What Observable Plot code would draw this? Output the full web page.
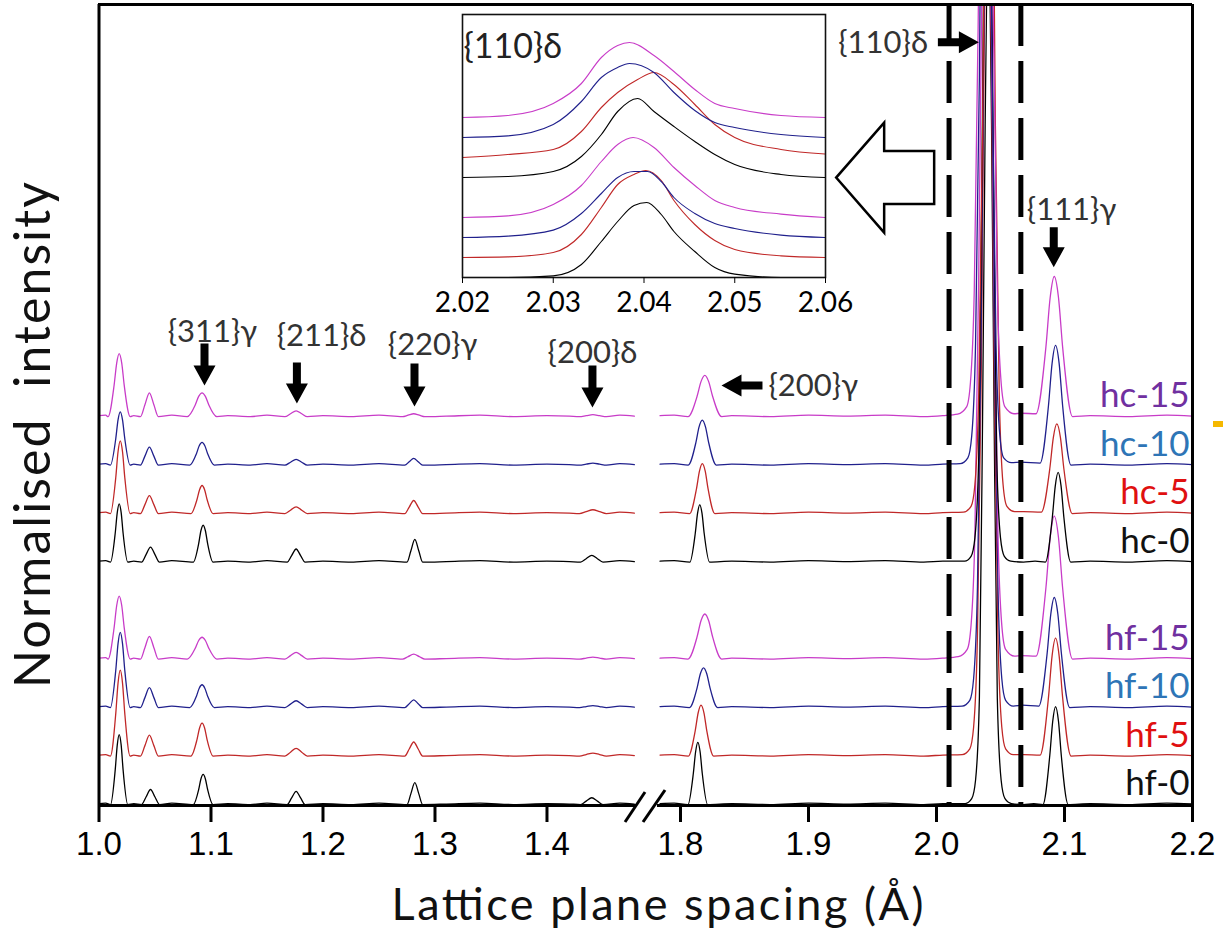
<!DOCTYPE html>
<html><head><meta charset="utf-8">
<script src="https://cdn.jsdelivr.net/npm/d3@7"></script>
<script src="https://cdn.jsdelivr.net/npm/@observablehq/plot@0.6"></script>
<style>body{margin:0;background:#fff} #chart{width:1223px;height:936px}</style>
</head><body><div id="chart"></div>
<script>
// ---------- axes / categories ----------
const xTicks = [1.0, 1.1, 1.2, 1.3, 1.4, 1.8, 1.9, 2.0, 2.1, 2.2];
const insetTicks = [2.02, 2.03, 2.04, 2.05, 2.06];
const seriesNames = ["hf-0", "hf-5", "hf-10", "hf-15", "hc-0", "hc-5", "hc-10", "hc-15"];
const offsets = [0, 1, 2, 3, 5, 6, 7, 8];
const lineColors = ["#000000", "#C02828", "#20208C", "#C83CC8", "#000000", "#C02828", "#20208C", "#C83CC8"];
const labelColors = ["#111111", "#E01010", "#2E75B6", "#7030A0", "#111111", "#E01010", "#2E75B6", "#7030A0"];
const dashedLines = [2.0098, 2.0659];
const axisBreak = [1.48, 1.782];   // left segment ends, right segment starts

// ---------- shared baseline points (d, intensity) ----------
const baseLeft = [[1.000,0.02],[1.006,0.03],[1.031,0.02],[1.065,0.03],[1.115,0.02],[1.135,0],[1.150,0.03],[1.20,0.02],[1.225,0],[1.25,0.03],[1.31,0.01],[1.34,0.03],[1.37,0],[1.40,0.02],[1.42,0.01],[1.465,0.03],[1.478,0.01]];
const baseRight = [[1.784,0.02],[1.795,0.03],[1.84,0.02],[1.87,0],[1.90,0.03],[1.93,0.01],[1.96,0.03],[1.99,0],[2.005,0.02],[2.12,0.02],[2.15,0],[2.18,0.03],[2.2,0.01]];

// ---------- main traces: peaks (d in Å, intensity above baseline) ----------
const hf0 = [[1.0103,0],[1.0145,0.72],[1.0163,1.224],[1.018,1.44],[1.0198,1.224],[1.0215,0.72],[1.0257,0],
 [1.038,0],[1.042,0.155],[1.046,0.31],[1.050,0.155],[1.054,0],
 [1.0842,0],[1.089,0.31],[1.091,0.527],[1.093,0.62],[1.095,0.527],[1.097,0.31],[1.1018,0],
 [1.168,0],[1.172,0.135],[1.176,0.27],[1.180,0.135],[1.184,0],
 [1.275,0],[1.2785,0.225],[1.282,0.45],[1.2855,0.225],[1.289,0],
 [1.430,0],[1.435,0.07],[1.440,0.14],[1.445,0.07],[1.450,0],
 [1.8058,0],[1.81,0.64],[1.8118,1.088],[1.8135,1.28],[1.8153,1.088],[1.817,0.64],[1.8212,0],
 [2.0225,0.02],[2.0275,0.12],[2.0305,0.5],[2.0335,2.2],[2.036,8],[2.038,14],[2.0405,18],[2.043,14],[2.045,8],[2.0475,2.2],[2.0505,0.5],[2.0535,0.12],[2.0585,0.02],
 [2.068,0],[2.076,0.02],
 [2.0831,0],[2.0885,1.01],[2.0908,1.717],[2.093,2.02],[2.0953,1.717],[2.0975,1.01],[2.1029,0]];
const hf5 = [[1.0102,0],[1.015,0.885],[1.017,1.5045],[1.019,1.77],[1.021,1.5045],[1.023,0.885],[1.0278,0],
 [1.037,0],[1.041,0.215],[1.045,0.43],[1.049,0.215],[1.053,0],
 [1.0821,0],[1.0875,0.34],[1.0898,0.578],[1.092,0.68],[1.0943,0.578],[1.0965,0.34],[1.1019,0],
 [1.166,0],[1.171,0.08],[1.176,0.16],[1.181,0.08],[1.186,0],
 [1.273,0],[1.277,0.145],[1.281,0.29],[1.285,0.145],[1.289,0],
 [1.429,0],[1.435,0.03],[1.441,0.06],[1.447,0.03],[1.453,0],
 [1.8061,0],[1.8115,0.525],[1.8138,0.8925],[1.816,1.05],[1.8183,0.8925],[1.8205,0.525],[1.8259,0],
 [2.020,0.03],[2.026,0.15],[2.029,0.6],[2.032,2.5],[2.035,8],[2.037,14],[2.040,18],[2.043,14],[2.045,8],[2.048,2.5],[2.051,0.6],[2.054,0.15],[2.060,0.03],
 [2.068,0.03],
 [2.0809,0.02],[2.0875,1.215],[2.0903,2.0655],[2.093,2.43],[2.0958,2.0655],[2.0985,1.215],[2.1051,0]];
const hf10 = [[1.0102,0],[1.015,0.775],[1.017,1.3175],[1.019,1.55],[1.021,1.3175],[1.023,0.775],[1.0278,0],
 [1.037,0],[1.041,0.205],[1.045,0.41],[1.049,0.205],[1.053,0],
 [1.081,0],[1.087,0.235],[1.0895,0.40],[1.092,0.47],[1.0945,0.40],[1.097,0.235],[1.103,0],
 [1.166,0],[1.171,0.07],[1.176,0.14],[1.181,0.07],[1.186,0],
 [1.273,0],[1.277,0.08],[1.281,0.16],[1.285,0.08],[1.289,0],
 [1.429,0],[1.435,0.02],[1.441,0.04],[1.447,0.02],[1.453,0],
 [1.807,0],[1.813,0.41],[1.8155,0.697],[1.818,0.82],[1.8205,0.697],[1.823,0.41],[1.829,0],
 [2.020,0.03],[2.026,0.15],[2.029,0.6],[2.032,2.5],[2.035,8],[2.037,14],[2.040,18],[2.043,14],[2.045,8],[2.048,2.5],[2.051,0.6],[2.054,0.15],[2.060,0.03],
 [2.067,0.05],
 [2.0799,0.03],[2.0865,1.135],[2.0893,1.93],[2.092,2.27],[2.0948,1.93],[2.0975,1.135],[2.1041,0]];
const hf15 = [[1.0081,0],[1.0135,0.65],[1.0158,1.105],[1.018,1.30],[1.0203,1.105],[1.0225,0.65],[1.0279,0],
 [1.037,0],[1.041,0.235],[1.045,0.47],[1.049,0.235],[1.053,0],
 [1.0788,0],[1.086,0.225],[1.089,0.3825],[1.092,0.45],[1.095,0.3825],[1.098,0.225],[1.1052,0],
 [1.166,0],[1.171,0.07],[1.176,0.14],[1.181,0.07],[1.186,0],
 [1.271,0],[1.276,0.05],[1.281,0.10],[1.286,0.05],[1.291,0],
 [1.429,0],[1.435,0.02],[1.441,0.04],[1.447,0.02],[1.453,0],
 [1.8058,0],[1.813,0.465],[1.816,0.79],[1.819,0.93],[1.822,0.79],[1.825,0.465],[1.8322,0],
 [2.017,0.05],[2.024,0.2],[2.027,0.7],[2.030,2.6],[2.033,8],[2.0355,14],[2.039,18],[2.0425,14],[2.045,8],[2.048,2.6],[2.051,0.7],[2.054,0.2],[2.061,0.06],
 [2.066,0.07],
 [2.0777,0.06],[2.0855,1.475],[2.0888,2.5075],[2.092,2.95],[2.0953,2.5075],[2.0985,1.475],[2.1063,0]];
const hc0 = [[1.0103,0],[1.0145,0.6],[1.0163,1.02],[1.018,1.20],[1.0198,1.02],[1.0215,0.6],[1.0257,0],
 [1.038,0],[1.042,0.155],[1.046,0.31],[1.050,0.155],[1.054,0],
 [1.0842,0],[1.089,0.38],[1.091,0.646],[1.093,0.76],[1.095,0.646],[1.097,0.38],[1.1018,0],
 [1.168,0],[1.172,0.135],[1.176,0.27],[1.180,0.135],[1.184,0],
 [1.275,0],[1.2785,0.235],[1.282,0.47],[1.2855,0.235],[1.289,0],
 [1.430,0],[1.435,0.07],[1.440,0.14],[1.445,0.07],[1.450,0],
 [1.8073,0],[1.8115,0.59],[1.8133,1.003],[1.815,1.18],[1.8168,1.003],[1.8185,0.59],[1.8227,0],
 [2.022,0.02],[2.027,0.12],[2.030,0.5],[2.033,2.2],[2.0355,8],[2.0375,14],[2.040,18],[2.0425,14],[2.0445,8],[2.047,2.2],[2.050,0.5],[2.053,0.12],[2.058,0.02],
 [2.068,0],[2.077,0.02],
 [2.0851,0],[2.0905,0.925],[2.0928,1.573],[2.095,1.85],[2.0973,1.573],[2.0995,0.925],[2.1049,0]];
const hc5 = [[1.0102,0],[1.015,0.75],[1.017,1.275],[1.019,1.50],[1.021,1.275],[1.023,0.75],[1.0278,0],
 [1.037,0],[1.041,0.185],[1.045,0.37],[1.049,0.185],[1.053,0],
 [1.0821,0],[1.0875,0.29],[1.0898,0.493],[1.092,0.58],[1.0943,0.493],[1.0965,0.29],[1.1019,0],
 [1.166,0],[1.171,0.07],[1.176,0.14],[1.181,0.07],[1.186,0],
 [1.273,0],[1.277,0.135],[1.281,0.27],[1.285,0.135],[1.289,0],
 [1.429,0],[1.435,0.04],[1.441,0.08],[1.447,0.04],[1.453,0],
 [1.8071,0],[1.8125,0.515],[1.8148,0.876],[1.817,1.03],[1.8193,0.876],[1.8215,0.515],[1.8269,0],
 [2.021,0.03],[2.027,0.15],[2.030,0.6],[2.033,2.5],[2.036,8],[2.038,14],[2.041,18],[2.044,14],[2.046,8],[2.049,2.5],[2.052,0.6],[2.055,0.15],[2.061,0.04],
 [2.068,0.04],
 [2.0819,0.03],[2.0885,0.925],[2.0913,1.573],[2.094,1.85],[2.0968,1.573],[2.0995,0.925],[2.1061,0]];
const hc10 = [[1.0102,0],[1.015,0.55],[1.017,0.935],[1.019,1.10],[1.021,0.935],[1.023,0.55],[1.0278,0],
 [1.037,0],[1.041,0.185],[1.045,0.37],[1.049,0.185],[1.053,0],
 [1.081,0],[1.087,0.235],[1.0895,0.40],[1.092,0.47],[1.0945,0.40],[1.097,0.235],[1.103,0],
 [1.166,0],[1.171,0.06],[1.176,0.12],[1.181,0.06],[1.186,0],
 [1.273,0],[1.277,0.07],[1.281,0.14],[1.285,0.07],[1.289,0],
 [1.429,0],[1.435,0.02],[1.441,0.04],[1.447,0.02],[1.453,0],
 [1.806,0],[1.812,0.465],[1.8145,0.79],[1.817,0.93],[1.8195,0.79],[1.822,0.465],[1.828,0],
 [2.0185,0.03],[2.0245,0.15],[2.0275,0.6],[2.0305,2.5],[2.0335,8],[2.0355,14],[2.0385,18],[2.0415,14],[2.0435,8],[2.0465,2.5],[2.0495,0.6],[2.0525,0.15],[2.0585,0.05],
 [2.066,0.06],
 [2.0809,0.04],[2.0875,1.235],[2.0903,2.10],[2.093,2.47],[2.0958,2.10],[2.0985,1.235],[2.1051,0]];
const hc15 = [[1.0081,0],[1.0135,0.65],[1.0158,1.105],[1.018,1.30],[1.0203,1.105],[1.0225,0.65],[1.0279,0],
 [1.037,0],[1.041,0.245],[1.045,0.49],[1.049,0.245],[1.053,0],
 [1.0788,0],[1.086,0.245],[1.089,0.4165],[1.092,0.49],[1.095,0.4165],[1.098,0.245],[1.1052,0],
 [1.166,0],[1.171,0.06],[1.176,0.12],[1.181,0.06],[1.186,0],
 [1.271,0],[1.276,0.03],[1.281,0.06],[1.286,0.03],[1.291,0],
 [1.429,0],[1.435,0.02],[1.441,0.04],[1.447,0.02],[1.453,0],
 [1.8058,0],[1.813,0.425],[1.816,0.7225],[1.819,0.85],[1.822,0.7225],[1.825,0.425],[1.8322,0],
 [2.0165,0.05],[2.0235,0.2],[2.0265,0.7],[2.0295,2.6],[2.0325,8],[2.035,14],[2.0385,18],[2.042,14],[2.0445,8],[2.0475,2.6],[2.0505,0.7],[2.0535,0.2],[2.0605,0.06],
 [2.066,0.07],
 [2.0777,0.06],[2.0855,1.445],[2.0888,2.4565],[2.092,2.89],[2.0953,2.4565],[2.0985,1.445],[2.1063,0]];
const mainSeries = [hf0, hf5, hf10, hf15, hc0, hc5, hc10, hc15];

// ---------- inset traces {110}δ (d, intensity above baseline) ----------
const inHf0 = [[2.02,0],[2.025,0],[2.03,0.08],[2.0331,0.65],[2.0353,1.8],[2.0371,2.8],[2.0389,3.6],[2.0403,3.75],[2.0419,3.15],[2.0433,2.3],[2.0456,1.3],[2.0478,0.5],[2.05,0.17],[2.0551,0],[2.06,0]];
const inHf5 = [[2.02,0],[2.025,0.03],[2.03,0.25],[2.0331,1.15],[2.0353,2.5],[2.0371,3.65],[2.0389,4.15],[2.0402,4.35],[2.0419,3.85],[2.0433,2.85],[2.0456,1.65],[2.0478,0.85],[2.05,0.4],[2.0551,0.08],[2.06,0]];
const inHf10 = [[2.02,0],[2.025,0.07],[2.03,0.37],[2.0331,1.2],[2.0353,2.2],[2.0371,3.0],[2.0389,3.3],[2.0404,3.3],[2.0419,2.8],[2.0433,2.0],[2.0456,1.2],[2.0478,0.7],[2.05,0.45],[2.0551,0.12],[2.06,0]];
const inHf15 = [[2.02,0],[2.025,0.08],[2.03,0.65],[2.0331,1.6],[2.0353,2.8],[2.0371,3.65],[2.0388,4.0],[2.0411,3.5],[2.0433,2.5],[2.0456,1.6],[2.0478,0.85],[2.05,0.5],[2.0551,0.17],[2.06,0]];
const inHc0 = [[2.02,0],[2.025,0.05],[2.03,0.3],[2.0331,1.05],[2.0353,2.15],[2.0371,3.3],[2.0393,3.95],[2.0411,3.3],[2.0433,2.55],[2.0456,1.8],[2.0478,1.15],[2.05,0.65],[2.0551,0.15],[2.06,0]];
const inHc5 = [[2.02,0],[2.025,0.15],[2.03,0.4],[2.0331,1.3],[2.0353,2.5],[2.0371,3.25],[2.0393,3.9],[2.0411,4.25],[2.0433,3.65],[2.0456,2.65],[2.0478,1.65],[2.05,1.0],[2.0551,0.4],[2.06,0.17]];
const inHc10 = [[2.02,0],[2.025,0.08],[2.03,0.65],[2.0331,1.8],[2.0353,3.0],[2.0371,3.5],[2.0384,3.7],[2.0411,3.25],[2.0433,2.25],[2.0456,1.35],[2.0478,0.75],[2.05,0.5],[2.0551,0.15],[2.06,0]];
const inHc15 = [[2.02,0],[2.025,0.1],[2.03,0.7],[2.0331,1.7],[2.0353,3.0],[2.0371,3.6],[2.0384,3.75],[2.0411,3.1],[2.0433,2.3],[2.0456,1.4],[2.0478,0.7],[2.05,0.45],[2.0551,0.1],[2.06,0]];
const insetSeries = [inHf0, inHf5, inHf10, inHf15, inHc0, inHc5, inHc10, inHc15];

// ---------- annotations (positions in data units) ----------
const peakLabels = [
  {text: "{311}γ", x: 1.1013, y: 9.74},
  {text: "{211}δ", x: 1.1987, y: 9.67},
  {text: "{220}γ", x: 1.2978, y: 9.47},
  {text: "{200}δ", x: 1.4406, y: 9.32},
  {text: "{200}γ", x: 1.9037, y: 8.64},
  {text: "{110}δ", x: 1.9583, y: 15.70},
  {text: "{111}γ", x: 2.1055, y: 12.25}
];
const arrows = [
  {x: 1.0942, y: 8.64, len: 42, rot: 180},
  {x: 1.1767, y: 8.27, len: 41, rot: 180},
  {x: 1.2817, y: 8.21, len: 43, rot: 180},
  {x: 1.4406, y: 8.19, len: 42, rot: 180},
  {x: 1.8320, y: 8.64, len: 41, rot: 270},
  {x: 2.0331, y: 15.72, len: 41, rot: 90},
  {x: 2.0916, y: 11.08, len: 40, rot: 180}
];
const bigArrow = [{x: 1.9216, y: 12.93, len: 98, rot: 270}];

// ---------- broken x axis: map d to a continuous position (left and right pieces) ----------
const toV = d => d <= 1.6 ? (d - 1.0) * 1120 : 558.5 + (d - axisBreak[1]) * 1280;
const vEnd = toV(2.2);

const byX = (a, b) => a[0] - b[0];
const mainRows = mainSeries.map((pts, i) =>
  [...baseLeft, ...baseRight, ...pts].sort(byX).map(([d, v]) => ({
    x: toV(d), y: offsets[i] + v, seg: d < 1.6 ? "L" : "R"
  })));
const insetRows = insetSeries.map((pts, i) => pts.map(([d, v]) => ({x: d, y: offsets[i] + v})));
const peakLabelRows = peakLabels.map(p => ({...p, x: toV(p.x)}));
const arrowRows = arrows.map(a => ({...a, x: toV(a.x)}));
const bigArrowRows = bigArrow.map(a => ({...a, x: toV(a.x)}));
const tickLabel = new Map(xTicks.map(t => [toV(t), t.toFixed(1)]));

const solidArrow = {draw(ctx, l) {
  const sw = 4, hw = 11, hl = 20;
  ctx.moveTo(-sw, 0); ctx.lineTo(-sw, -l + hl); ctx.lineTo(-hw, -l + hl); ctx.lineTo(0, -l);
  ctx.lineTo(hw, -l + hl); ctx.lineTo(sw, -l + hl); ctx.lineTo(sw, 0); ctx.closePath();
}};
const hollowArrow = {draw(ctx, l) {
  const sw = 26.5, hw = 55, hl = 48;
  ctx.moveTo(-sw, 0); ctx.lineTo(-sw, -l + hl); ctx.lineTo(-hw, -l + hl); ctx.lineTo(0, -l);
  ctx.lineTo(hw, -l + hl); ctx.lineTo(sw, -l + hl); ctx.lineTo(sw, 0); ctx.closePath();
}};

const calibri = "Lato, 'Open Sans', sans-serif";

const plot = Plot.plot({
  width: 1223, height: 936,
  marginLeft: 98, marginRight: 31, marginTop: 4, marginBottom: 131,
  x: {domain: [0, vEnd], range: [98.5, 1192]},
  y: {domain: [-0.02, 16.5], axis: null},
  style: {fontFamily: calibri, background: "white", overflow: "visible"},
  marks: [
    ...mainRows.map((rows, i) => Plot.line(rows, {x: "x", y: "y", z: "seg", stroke: lineColors[i], strokeWidth: 1.3, curve: "monotone-x", clip: true})),
    Plot.ruleX(dashedLines.map(toV), {stroke: "black", strokeWidth: 5, strokeDasharray: "42,15"}),
    Plot.ruleX([toV(1.0), vEnd], {stroke: "black", strokeWidth: 3}),
    Plot.ruleY([16.5], {stroke: "black", strokeWidth: 3}),
    Plot.ruleY([{a: toV(1.0), b: toV(axisBreak[0])}, {a: toV(axisBreak[1]), b: vEnd}], {y: -0.02, x1: "a", x2: "b", stroke: "black", strokeWidth: 3}),
    Plot.axisX({ticks: xTicks.map(toV), tickFormat: v => tickLabel.get(v), tickSize: 17, tickPadding: 9, strokeWidth: 3, fontSize: 33, label: null}),
    ...seriesNames.map((n, i) => Plot.text([n], {x: vEnd, y: offsets[i] + 0.42, text: d => d, textAnchor: "end", dx: -3, fill: labelColors[i], fontSize: 35})),
    Plot.text(peakLabelRows, {x: "x", y: "y", text: "text", fontSize: 31, fill: "#333"}),
    ...arrowRows.map(a => Plot.vector([a], {x: "x", y: "y", length: a.len, rotate: a.rot, anchor: "end", shape: solidArrow, fill: "black", stroke: "none"})),
    Plot.vector(bigArrowRows, {x: "x", y: "y", length: bigArrow[0].len, rotate: bigArrow[0].rot, anchor: "end", shape: hollowArrow, fill: "white", stroke: "black", strokeWidth: 2.5, strokeLinejoin: "miter"}),
    Plot.text(["Lattice plane spacing (Å)"], {frameAnchor: "bottom", dx: 12, dy: 100, lineAnchor: "middle", fontSize: 45, fill: "#111"}),
    Plot.text(["Normalised  intensity"], {frameAnchor: "left", dx: -65, dy: 30, rotate: -90, textAnchor: "middle", fontSize: 50, fill: "#111"})
  ]
});

const inset = Plot.plot({
  width: 1223, height: 936,
  marginLeft: 462, marginRight: 398, marginTop: 14, marginBottom: 659,
  x: {domain: [2.02, 2.06]},
  y: {domain: [0, 13.15], axis: null},
  style: {fontFamily: calibri, background: "transparent", overflow: "visible"},
  marks: [
    Plot.frame({fill: "white", stroke: "none"}),
    ...insetRows.map((rows, i) => Plot.line(rows, {x: "x", y: "y", stroke: lineColors[i], strokeWidth: 1.1, curve: "monotone-x", clip: true})),
    Plot.frame({stroke: "#111", strokeWidth: 1.6}),
    Plot.axisX({ticks: insetTicks, tickFormat: d => d.toFixed(2), tickSize: 6, tickPadding: 9, fontSize: 28, label: null}),
    Plot.text(["{110}δ"], {frameAnchor: "top-left", dx: 1, dy: 33, textAnchor: "start", lineAnchor: "middle", fontSize: 34, fill: "#222"})
  ]
});

const svg = d3.select(plot);
svg.append(() => inset).attr("x", 0).attr("y", 0);
svg.selectAll("text").each(function () {
  const t = this.textContent;
  if (t === "Normalised  intensity") d3.select(this).style("white-space", "pre").attr("textLength", 506).attr("lengthAdjust", "spacing");
  if (t === "Lattice plane spacing (Å)") d3.select(this).attr("textLength", 532).attr("lengthAdjust", "spacing");
});
// main tick labels in an Arial-like face
svg.selectAll('g[aria-label="x-axis tick label"]').filter(function () { return this.closest("svg") === plot; })
  .attr("font-family", "'Liberation Sans', Arial, sans-serif");

// axis break slashes, placed from the x scale
const X = plot.scale("x");
const mid = (X.apply(toV(axisBreak[0])) + X.apply(toV(axisBreak[1]))) / 2;
const slashes = [[-21.5, 822, -1.5, 792], [-3.5, 822, 18.5, 790]];
svg.append("g").selectAll("line").data(slashes).join("line")
  .attr("x1", d => mid + d[0]).attr("y1", d => d[1]).attr("x2", d => mid + d[2]).attr("y2", d => d[3])
  .attr("stroke", "black").attr("stroke-width", 3);
// small cropped orange mark at the right edge of the original
svg.append("rect").attr("x", 1213).attr("y", 421).attr("width", 10).attr("height", 6).attr("fill", "#F5B800");

document.getElementById("chart").appendChild(plot);
</script></body></html>
